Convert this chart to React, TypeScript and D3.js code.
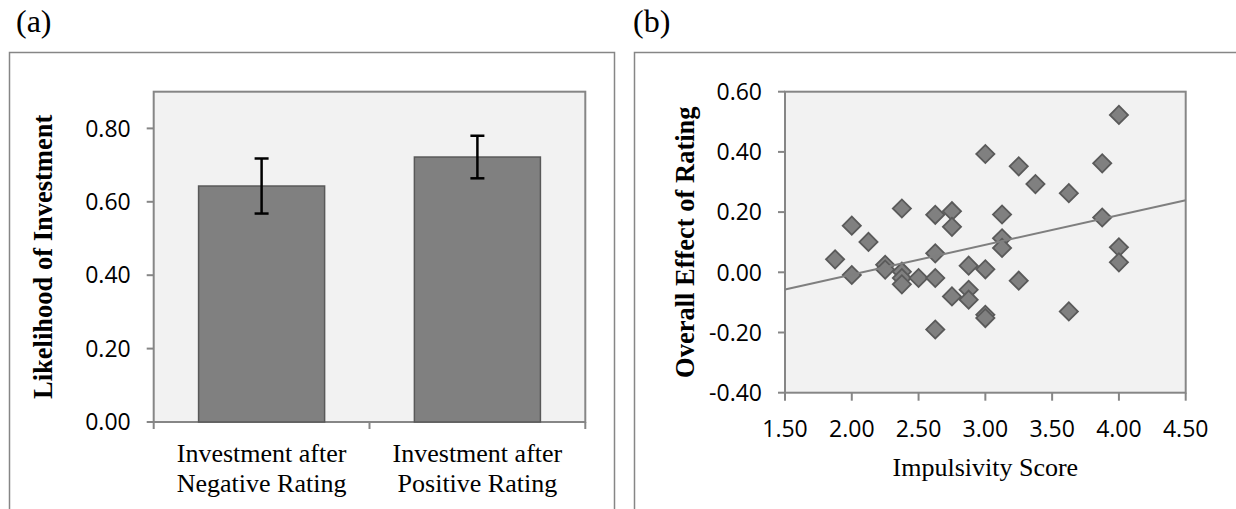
import React from 'react';
import * as d3 from 'd3';

// panel (a): likelihood of investment after a rating
const barCategories = ['Negative', 'Positive'];
const barLabels = [
  ['Investment after', 'Negative Rating'],
  ['Investment after', 'Positive Rating'],
];
const barValues = [0.643, 0.722];
const barErrors = [0.075, 0.058];
const barTicks = [0, 0.2, 0.4, 0.6, 0.8];

// panel (b): impulsivity vs overall effect of rating
const impulsivity = [
  1.875, 2.0, 2.0, 2.125, 2.25, 2.25, 2.375, 2.375, 2.375, 2.375,
  2.5, 2.625, 2.625, 2.625, 2.625, 2.75, 2.75, 2.75, 2.875, 2.875,
  2.875, 3.0, 3.0, 3.0, 3.0, 3.125, 3.125, 3.125, 3.25, 3.25,
  3.375, 3.625, 3.625, 3.875, 3.875, 4.0, 4.0, 4.0,
];
const ratingEffect = [
  0.043, 0.155, -0.009, 0.101, 0.025, 0.009, 0.212, 0.002, -0.019, -0.04,
  -0.019, 0.191, 0.063, -0.019, -0.19, 0.203, 0.151, -0.08, 0.022, -0.058,
  -0.091, 0.393, 0.01, -0.141, -0.152, 0.192, 0.113, 0.081, 0.352, -0.028,
  0.293, 0.263, -0.13, 0.362, 0.182, 0.523, 0.083, 0.033,
];
const xTicks = [1.5, 2.0, 2.5, 3.0, 3.5, 4.0, 4.5];
const yTicks = [-0.4, -0.2, 0, 0.2, 0.4, 0.6];

const serif = '"Liberation Serif", "Times New Roman", serif';
const sans = '"Open Sans", "Liberation Sans", sans-serif';
const axisGrey = '#868686';

function BarPanel() {
  const left = 153.7, right = 585.3, top = 91.7, bottom = 422;
  const x = d3.scaleBand<string>().domain(barCategories).range([left, right])
    .paddingInner(0.416).paddingOuter(0.208);
  const y = d3.scaleLinear().domain([0, 0.9]).range([bottom, top]);
  const step = x.step();
  const edges = [left, left + step, right];
  return (
    <g>
      <text x={16} y={32} fontFamily={serif} fontSize={32}>(a)</text>
      <path d={`M9.5,509 V52.5 H614.5 V509`} fill="none" stroke={axisGrey} strokeWidth={1.5} />
      <rect x={left} y={top} width={right - left} height={bottom - top} fill="#f2f2f2" stroke={axisGrey} strokeWidth={2} />
      {barValues.map((v, i) => (
        <rect key={i} x={x(barCategories[i])} y={y(v)} width={x.bandwidth()} height={bottom - y(v)}
          fill="#808080" stroke="#595959" strokeWidth={1.5} />
      ))}
      {barValues.map((v, i) => {
        const cx = (x(barCategories[i]) as number) + x.bandwidth() / 2;
        const hi = y(v + barErrors[i]), lo = y(v - barErrors[i]);
        return (
          <g key={i} stroke="#000" strokeWidth={2.5}>
            <line x1={cx} x2={cx} y1={hi} y2={lo} />
            <line x1={cx - 7} x2={cx + 7} y1={hi} y2={hi} />
            <line x1={cx - 7} x2={cx + 7} y1={lo} y2={lo} />
          </g>
        );
      })}
      {barTicks.map((t) => (
        <g key={t}>
          <line x1={left - 7} x2={left} y1={y(t)} y2={y(t)} stroke={axisGrey} strokeWidth={2} />
          <text x={left - 23} y={y(t)} dy="0.36em" textAnchor="end" fontFamily={sans} fontSize={23}>
            {t.toFixed(2)}
          </text>
        </g>
      ))}
      {edges.map((e, i) => (
        <line key={i} x1={e} x2={e} y1={bottom} y2={bottom + 7} stroke={axisGrey} strokeWidth={2} />
      ))}
      {barLabels.map((lines, i) => {
        const cx = (x(barCategories[i]) as number) + x.bandwidth() / 2;
        return (
          <text key={i} x={cx} y={462} textAnchor="middle" fontFamily={serif} fontSize={26}>
            <tspan x={cx}>{lines[0]}</tspan>
            <tspan x={cx} dy={30}>{lines[1]}</tspan>
          </text>
        );
      })}
      <text transform={`translate(52,${(top + bottom) / 2}) rotate(-90)`} textAnchor="middle"
        fontFamily={serif} fontSize={26.5} fontWeight="bold">Likelihood of Investment</text>
    </g>
  );
}

function ScatterPanel() {
  const left = 785, right = 1185.7, top = 91.7, bottom = 392.7;
  const x = d3.scaleLinear().domain([1.5, 4.5]).range([left, right]);
  const y = d3.scaleLinear().domain([-0.4, 0.6]).range([bottom, top]);

  // least-squares trend line
  const mx = d3.mean(impulsivity) as number;
  const my = d3.mean(ratingEffect) as number;
  const sxy = d3.sum(impulsivity, (v, i) => (v - mx) * (ratingEffect[i] - my));
  const sxx = d3.sum(impulsivity, (v) => (v - mx) ** 2);
  const slope = sxy / sxx;
  const icpt = my - slope * mx;
  const trend = d3.line<number>().x((d) => x(d)).y((d) => y(icpt + slope * d))([1.5, 4.5]);

  const diamond = d3.symbol(d3.symbolSquare, 165)();
  return (
    <g>
      <text x={633} y={32} fontFamily={serif} fontSize={32}>(b)</text>
      <path d={`M634.5,509 V52.5 H1240`} fill="none" stroke={axisGrey} strokeWidth={1.5} />
      <rect x={left} y={top} width={right - left} height={bottom - top} fill="#f2f2f2" stroke={axisGrey} strokeWidth={2} />
      {yTicks.map((t) => (
        <g key={t}>
          <line x1={left - 7} x2={left} y1={y(t)} y2={y(t)} stroke={axisGrey} strokeWidth={2} />
          <text x={left - 23} y={y(t)} dy="0.36em" textAnchor="end" fontFamily={sans} fontSize={23}>
            {t.toFixed(2)}
          </text>
        </g>
      ))}
      {xTicks.map((t) => (
        <g key={t}>
          <line x1={x(t)} x2={x(t)} y1={bottom} y2={bottom + 8} stroke={axisGrey} strokeWidth={2} />
          <text x={x(t)} y={436.5} textAnchor="middle" fontFamily={sans} fontSize={23}>
            {t.toFixed(2)}
          </text>
        </g>
      ))}
      {impulsivity.map((v, i) => (
        <path key={i} d={diamond as string}
          transform={`translate(${x(v)},${y(ratingEffect[i])}) rotate(45)`}
          fill="#808080" stroke="#5a5a5a" strokeWidth={1.8} />
      ))}
      <path d={trend as string} fill="none" stroke="#7f7f7f" strokeWidth={2} />
      <text x={(left + right) / 2} y={476} textAnchor="middle" fontFamily={serif} fontSize={26}>
        Impulsivity Score
      </text>
      <text transform={`translate(694,${(top + bottom) / 2}) rotate(-90)`} textAnchor="middle"
        fontFamily={serif} fontSize={26.5} fontWeight="bold">Overall Effect of Rating</text>
    </g>
  );
}

export default function App() {
  return (
    <svg width={1236} height={509} style={{ position: 'absolute', left: 0, top: 0, background: '#fff' }}>
      <BarPanel />
      <ScatterPanel />
    </svg>
  );
}
